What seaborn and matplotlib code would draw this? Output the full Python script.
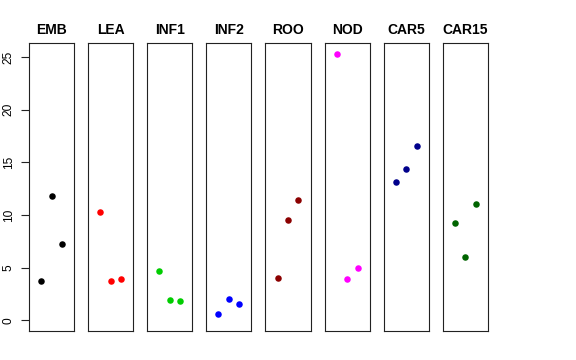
import pandas as pd
import seaborn as sns
import matplotlib.pyplot as plt

# === data ===
groups = ["EMB", "LEA", "INF1", "INF2", "ROO", "NOD", "CAR5", "CAR15"]
colors = ["#000000", "#FF0000", "#00CD00", "#0000FF", "#8B0000", "#FF00FF", "#00008B", "#006400"]
replicate = [1, 2, 3]
emb = [3.74, 11.76, 7.22]
lea = [10.33, 3.77, 3.93]
inf1 = [4.72, 1.93, 1.84]
inf2 = [0.60, 2.00, 1.59]
roo = [4.02, 9.57, 11.44]
nod = [25.30, 3.90, 4.94]
car5 = [13.18, 14.35, 16.57]
car15 = [9.25, 6.05, 11.09]
yticks = [0, 5, 10, 15, 20, 25]

values = [emb, lea, inf1, inf2, roo, nod, car5, car15]
rows = []
for g, vals in zip(groups, values):
    for r, v in zip(replicate, vals):
        rows.append({"group": g, "rep": r, "value": v})
df = pd.DataFrame(rows)

# === style ===
sns.set_style("white")
plt.rcParams["font.family"] = ["Liberation Sans", "DejaVu Sans"]
plt.rcParams["text.color"] = "black"
plt.rcParams["ytick.color"] = "black"
plt.rcParams["ytick.labelcolor"] = "black"

fig, axes = plt.subplots(1, len(groups), figsize=(5.76, 3.6), dpi=100, sharey=True)
fig.subplots_adjust(left=0.0503, right=0.847, top=0.8806, bottom=0.0806, wspace=0.311)

for ax, g, c in zip(axes, groups, colors):
    sub = df[df["group"] == g]
    sns.scatterplot(data=sub, x="rep", y="value", color=c, s=22, linewidth=0, ax=ax)
    ax.set_xlim(-0.16, 4.16)
    ax.set_ylim(-1.01, 26.33)
    ax.set_xticks([])
    ax.set_xlabel("")
    ax.set_ylabel("")
    ax.set_title(g, fontsize=10, fontweight="bold", pad=6.5, color="black")
    for sp in ax.spines.values():
        sp.set_visible(True)
        sp.set_color("#222222")
        sp.set_linewidth(0.8)
    if ax is not axes[0]:
        ax.tick_params(axis="y", left=False, labelleft=False)

axes[0].set_yticks(yticks)
axes[0].tick_params(axis="y", left=True, length=5.8, width=0.8, color="#222222",
                    pad=4.5, labelsize=8.6, labelrotation=90, labelcolor="black")
for lab in axes[0].get_yticklabels():
    lab.set_va("center")

fig.savefig("out.png", dpi=100)
